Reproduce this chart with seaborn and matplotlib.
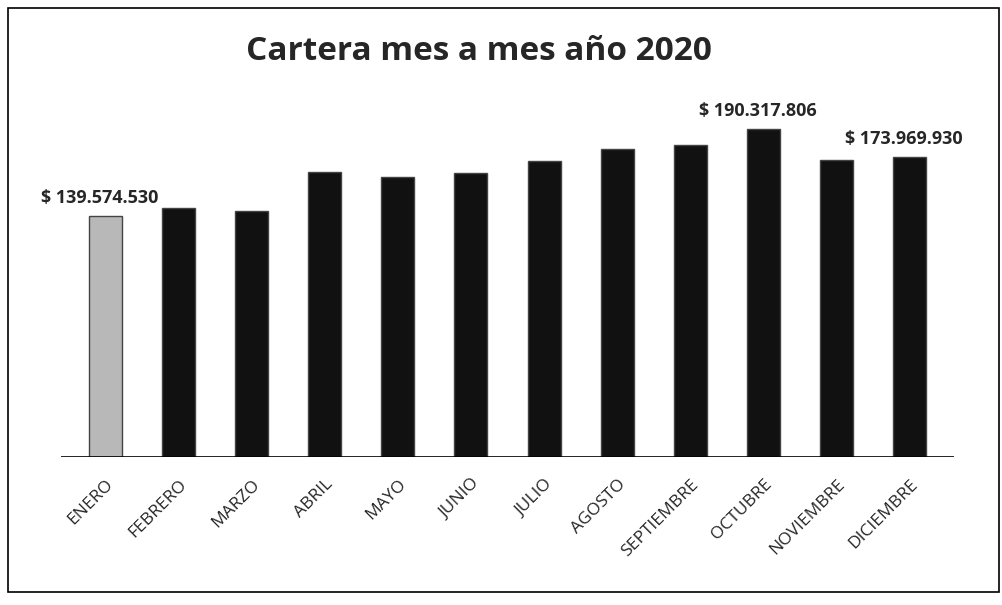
import pandas as pd
import matplotlib
matplotlib.use("Agg")
import matplotlib.pyplot as plt
import seaborn as sns

meses = ['ENERO', 'FEBRERO', 'MARZO', 'ABRIL', 'MAYO', 'JUNIO', 'JULIO',
         'AGOSTO', 'SEPTIEMBRE', 'OCTUBRE', 'NOVIEMBRE', 'DICIEMBRE']
# cartera en millones de pesos (excepto los 3 rotulados)
cartera = [139.574530, 144.5, 142.5, 165.0, 162.5, 164.5, 171.5,
           178.5, 181.0, 190.317806, 172.0, 173.969930]
etiquetas = {0: '$ 139.574.530', 9: '$ 190.317.806', 11: '$ 173.969.930'}
colores = ['#b8b8b8'] + ['#111111'] * 11

df = pd.DataFrame({'mes': meses, 'cartera': cartera})

sns.set_style('white')
plt.rcParams['font.family'] = ['Open Sans', 'DejaVu Sans']

fig = plt.figure(figsize=(10.03, 6.05), dpi=100)
ax = fig.add_axes([0.061, 0.245, 0.89, 0.59])

sns.barplot(data=df, x='mes', y='cartera', hue='mes', palette=colores,
            legend=False, width=0.45, edgecolor='#444444', linewidth=1, ax=ax)

for i, txt in etiquetas.items():
    ax.text(i - 0.08, cartera[i] + 5, txt, ha='center', va='bottom',
            fontsize=13, fontweight='bold')

ax.axhline(0, color='black', lw=1.2)
ax.set_xlim(-0.6, 11.6)
ax.set_ylim(0, 207)
ax.set_xlabel('')
ax.set_ylabel('')
ax.set_yticks([])
ax.tick_params(axis='x', length=0, pad=14)
plt.setp(ax.get_xticklabels(), rotation=45, ha='right', rotation_mode='anchor',
         fontsize=12.5)
sns.despine(ax=ax, left=True, bottom=True)

fig.text(0.478, 0.915, 'Cartera mes a mes año 2020', ha='center', va='center',
         fontsize=24, fontweight='bold')

# marco del grafico
fig.patches.append(plt.Rectangle((0.008, 0.022), 0.988, 0.965, fill=False,
                                 edgecolor='black', lw=1.2,
                                 transform=fig.transFigure))

fig.savefig('out.png', dpi=100)
